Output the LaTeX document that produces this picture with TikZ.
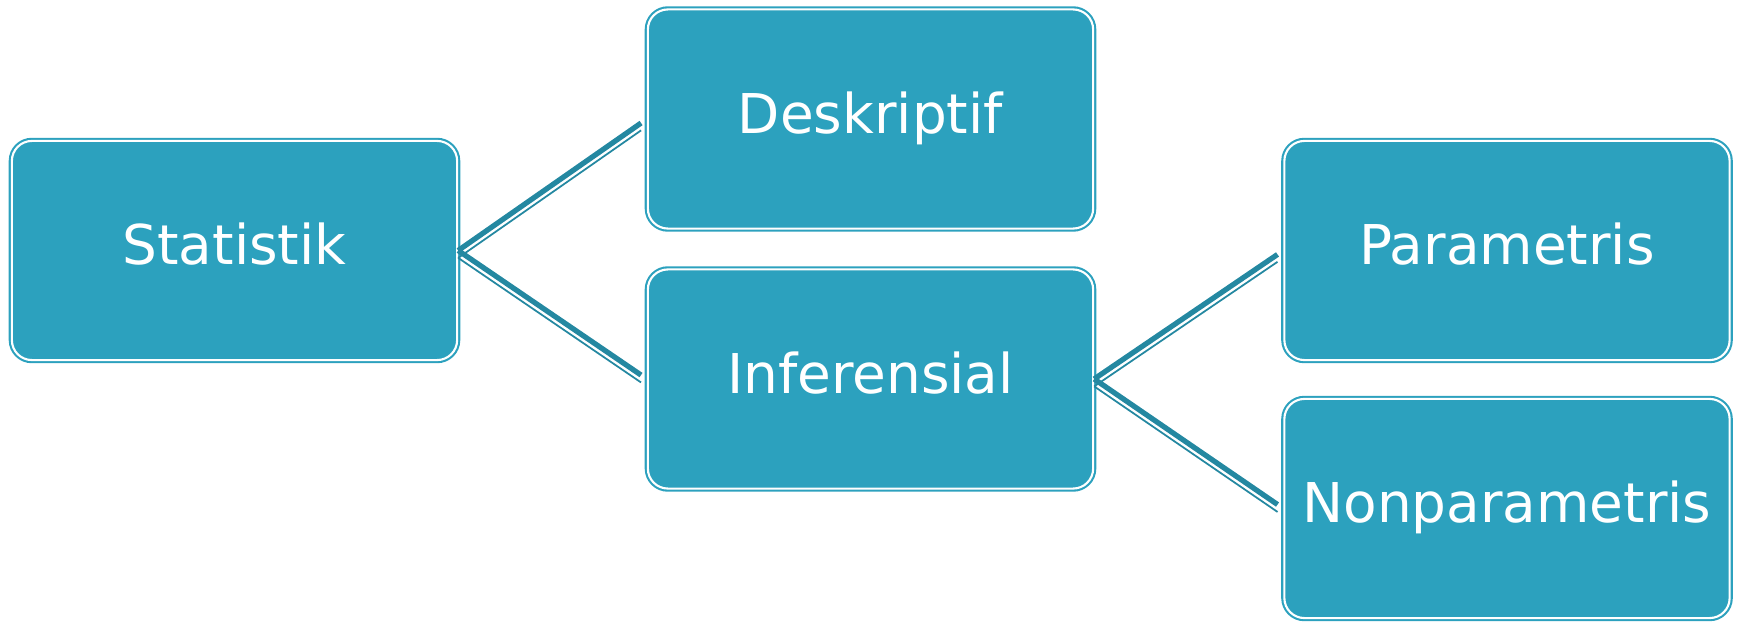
\documentclass[tikz,border=0pt]{standalone}
\usepackage{fontspec}
\setmainfont{DejaVu Sans}
\definecolor{boxteal}{HTML}{2CA1BE}
\definecolor{linkteal}{HTML}{2488A1}

\tikzset{
  box/.style={rectangle, rounded corners=0.2cm, fill=boxteal, draw=boxteal,
    double=white, line width=0.6pt, double distance=0.6pt,
    minimum width=4.45cm, minimum height=2.19cm, inner sep=0pt, text=white,
    font=\fontsize{15.6pt}{18pt}\selectfont, text height=1.05em, text depth=0.25em},
  link/.style={draw=linkteal, line width=1.5pt, shorten >=0.07cm,
    postaction={draw=linkteal, line width=0.5pt, transform canvas={yshift=-2.1pt}}},
}

\begin{document}
\begin{tikzpicture}[x=0.01cm, y=-0.01cm]
  \useasboundingbox (0,0) rectangle (1739,621);

  \begin{scope}[every node/.style={box}]
    \node (stat)     at (234.5,250.5) {Statistik};
    \node (desk)     at (870.5,119)   {Deskriptif};
    \node (infer)    at (870.5,379)   {Inferensial};
    \node (param)    at (1507,250.5)  {Parametris};
    \node (nonparam) at (1507,508.5)  {Nonparametris};
  \end{scope}

  \begin{scope}[every edge/.style={link}]
    \path (stat.east)  edge (desk.west);
    \path (stat.east)  edge (infer.west);
    \path (infer.east) edge (param.west);
    \path (infer.east) edge (nonparam.west);
  \end{scope}

\end{tikzpicture}
\end{document}
